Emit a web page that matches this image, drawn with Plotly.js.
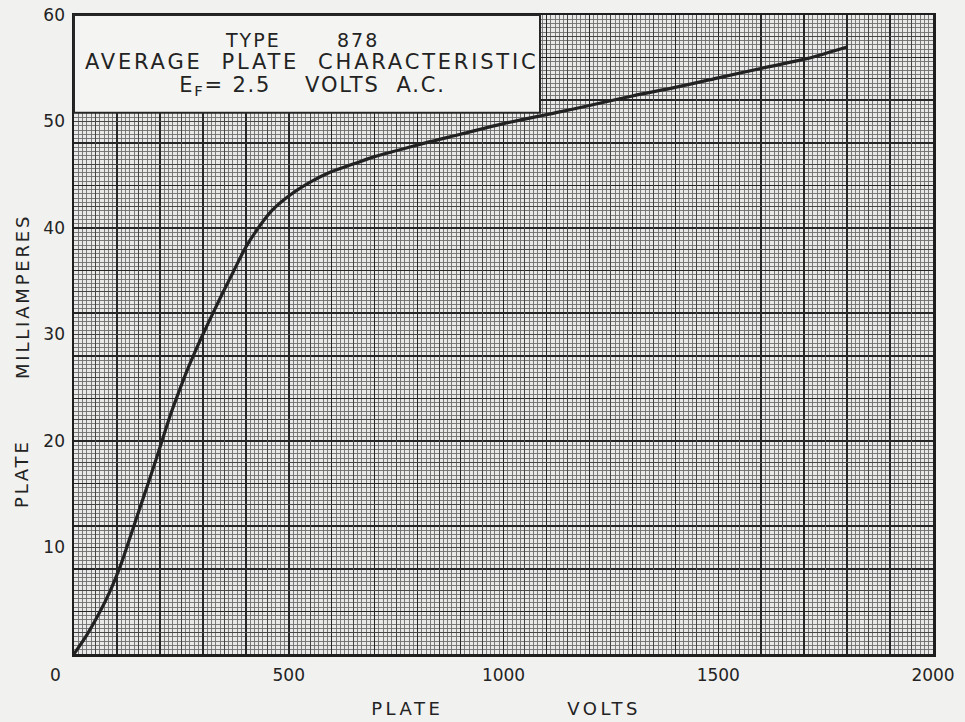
<!DOCTYPE html>
<html>
<head>
<meta charset="utf-8">
<script src="https://cdn.plot.ly/plotly-3.0.1.min.js"></script>
<style>
  html, body { margin: 0; padding: 0; background: #f1f1ef; }
  #chart { width: 965px; height: 722px; }
  #chart .xtick text, #chart .ytick text { letter-spacing: 0.6px; }
  #chart .annotation text { letter-spacing: 2px; }
  #chart .annotation[data-index="1"] text { letter-spacing: 2.8px; }
  #chart .annotation[data-index="2"] text { letter-spacing: 1.8px; }
  #chart .annotation[data-index="4"] text, #chart .annotation[data-index="5"] text { letter-spacing: 3.5px; }
  #chart .annotation[data-index="6"] text, #chart .annotation[data-index="7"] text { letter-spacing: 2.8px; }
</style>
</head>
<body>
<div id="chart"></div>
<script>
// Plate voltage (V) and average plate current (mA)
const plateVolts = [0, 30, 57, 84, 111, 126, 150, 175, 193, 204, 224, 243, 262, 282, 300, 321, 345, 371, 400, 429, 460, 500, 550, 600, 650, 700, 800, 900, 1000, 1131, 1200, 1300, 1400, 1500, 1613, 1706, 1800];
const plateMilliamps = [0, 1.8, 3.7, 5.9, 8.6, 10.4, 13.3, 16.3, 18.5, 19.9, 22.4, 24.5, 26.5, 28.4, 30.0, 31.8, 33.8, 35.9, 38.2, 40.0, 41.6, 43.0, 44.3, 45.3, 46.0, 46.7, 47.8, 48.8, 49.8, 50.9, 51.5, 52.4, 53.2, 54.1, 55.1, 55.9, 57.0];

const xTickVals = [500, 1000, 1500, 2000];
const xTickText = ['500', '1000', '1500', '2000'];
const yTickVals = [10, 20, 30, 40, 50, 60];
const yTickText = ['10', '20', '30', '40', '50', '60'];

const titleLines = ['TYPE\u00A0\u00A0\u00A0\u00A0\u00A0\u00A0\u00A0878',
                    'AVERAGE\u00A0\u00A0PLATE\u00A0\u00A0CHARACTERISTIC',
                    'E<sub>F</sub>= 2.5\u00A0\u00A0\u00A0\u00A0VOLTS\u00A0\u00A0A.C.'];

const FONT = '"DejaVu Sans", Lato, sans-serif';
const INK = '#232323';
const HEAVY = '#262626', MEDIUM = '#454545', FINE = '#6e6e6e';

const curve = {
  x: plateVolts, y: plateMilliamps, type: 'scatter', mode: 'lines',
  line: {color: '#222222', width: 3.2, shape: 'spline', smoothing: 0.8},
  hoverinfo: 'x+y', showlegend: false
};
// empty helper traces so the overlaid grid / label axes get drawn
const helpers = [['x2', 'y'], ['x3', 'y'], ['x', 'y2'], ['x', 'y3']].map(([xa, ya]) => ({
  x: [], y: [], type: 'scatter', mode: 'lines', xaxis: xa, yaxis: ya, hoverinfo: 'skip', showlegend: false
}));

const layout = {
  width: 965, height: 722,
  margin: {l: 74, r: 32, t: 15, b: 68},
  paper_bgcolor: '#f1f1ef',
  plot_bgcolor: '#e9e9e7',
  font: {family: FONT, color: INK, size: 17},
  showlegend: false,
  xaxis: {
    range: [0, 2000], tick0: 0, dtick: 100, ticks: '', showticklabels: false,
    showgrid: true, gridcolor: HEAVY, gridwidth: 1.5,
    minor: {dtick: 10, showgrid: true, gridcolor: FINE, gridwidth: 0.9, ticks: ''},
    showline: true, mirror: true, linecolor: '#1e1e1e', linewidth: 2.5, zeroline: false, fixedrange: true
  },
  xaxis2: {
    overlaying: 'x', anchor: 'y', range: [0, 2000], tick0: 50, dtick: 100,
    showgrid: true, gridcolor: MEDIUM, gridwidth: 1, showticklabels: false, ticks: '', zeroline: false
  },
  xaxis3: {
    overlaying: 'x', anchor: 'y', range: [0, 2000], tickmode: 'array', tickvals: xTickVals, ticktext: xTickText,
    showgrid: false, ticks: '', zeroline: false, side: 'bottom',
    tickfont: {family: FONT, size: 17, color: INK}, ticklabelstandoff: 9
  },
  yaxis: {
    range: [0, 60], tick0: 0, dtick: 4, ticks: '', showticklabels: false,
    showgrid: true, gridcolor: HEAVY, gridwidth: 1.5,
    minor: {dtick: 0.4, showgrid: true, gridcolor: FINE, gridwidth: 0.9, ticks: ''},
    showline: true, mirror: true, linecolor: '#1e1e1e', linewidth: 2.5, zeroline: false, fixedrange: true
  },
  yaxis2: {
    overlaying: 'y', anchor: 'x', range: [0, 60], tick0: 2, dtick: 4,
    showgrid: true, gridcolor: MEDIUM, gridwidth: 1, showticklabels: false, ticks: '', zeroline: false
  },
  yaxis3: {
    overlaying: 'y', anchor: 'x', range: [0, 60], tickmode: 'array', tickvals: yTickVals, ticktext: yTickText,
    showgrid: false, ticks: '', zeroline: false, side: 'left',
    tickfont: {family: FONT, size: 17, color: INK}, ticklabelstandoff: 8
  },
  shapes: [{
    type: 'rect', xref: 'paper', yref: 'paper', x0: 0, x1: 0.5425, y0: 0.847, y1: 1,
    fillcolor: '#f4f4f2', line: {color: '#262626', width: 2}, layer: 'above'
  }],
  annotations: [
    {xref: 'paper', yref: 'paper', x: 0.265, y: 0.961, text: titleLines[0], showarrow: false,
     xanchor: 'center', yanchor: 'middle', font: {family: FONT, size: 19, color: INK}},
    {xref: 'paper', yref: 'paper', x: 0.276, y: 0.927, text: titleLines[1], showarrow: false,
     xanchor: 'center', yanchor: 'middle', font: {family: FONT, size: 21, color: INK}},
    {xref: 'paper', yref: 'paper', x: 0.278, y: 0.889, text: titleLines[2], showarrow: false,
     xanchor: 'center', yanchor: 'middle', font: {family: FONT, size: 21, color: INK}},
    {xref: 'paper', yref: 'paper', x: -0.0198, y: -0.033, text: '0', showarrow: false,
     xanchor: 'center', yanchor: 'middle', font: {family: FONT, size: 17, color: INK}},
    {xref: 'paper', yref: 'paper', x: 0.3877, y: -0.086, text: 'PLATE', showarrow: false,
     xanchor: 'center', yanchor: 'middle', font: {family: FONT, size: 18, color: INK}},
    {xref: 'paper', yref: 'paper', x: 0.617, y: -0.086, text: 'VOLTS', showarrow: false,
     xanchor: 'center', yanchor: 'middle', font: {family: FONT, size: 18, color: INK}},
    {xref: 'paper', yref: 'paper', x: -0.0605, y: 0.2817, text: 'PLATE', showarrow: false, textangle: -90,
     xanchor: 'center', yanchor: 'middle', font: {family: FONT, size: 18, color: INK}},
    {xref: 'paper', yref: 'paper', x: -0.0605, y: 0.560, text: 'MILLIAMPERES', showarrow: false, textangle: -90,
     xanchor: 'center', yanchor: 'middle', font: {family: FONT, size: 18, color: INK}}
  ]
};

Plotly.newPlot('chart', [curve].concat(helpers), layout, {displayModeBar: false, staticPlot: true});
</script>
</body>
</html>
